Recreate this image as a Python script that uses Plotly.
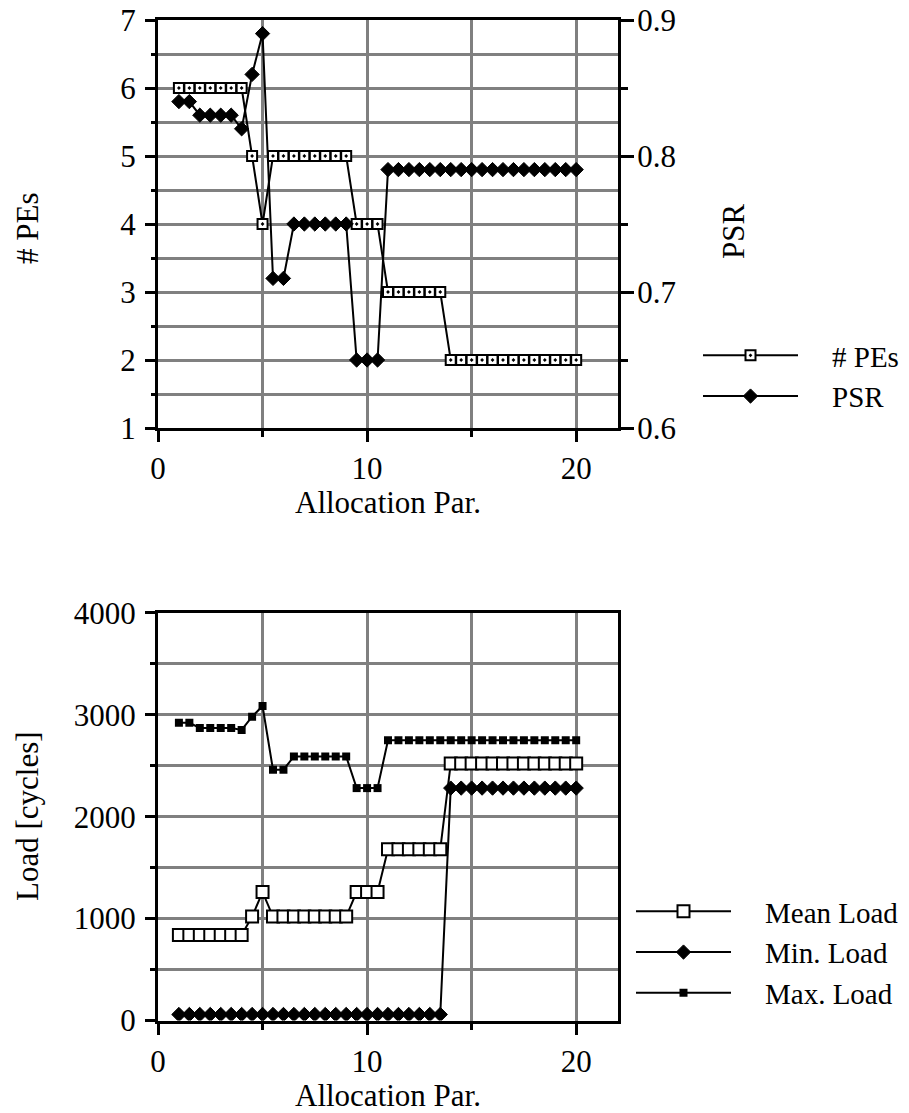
import plotly.graph_objects as go

# ---------------- data ----------------
alloc_par = [1, 1.5, 2, 2.5, 3, 3.5, 4, 4.5, 5, 5.5, 6, 6.5, 7, 7.5, 8, 8.5, 9, 9.5, 10,
             10.5, 11, 11.5, 12, 12.5, 13, 13.5, 14, 14.5, 15, 15.5, 16, 16.5, 17, 17.5,
             18, 18.5, 19, 19.5, 20]

num_pes = [6, 6, 6, 6, 6, 6, 6, 5, 4, 5, 5, 5, 5, 5, 5, 5, 5, 4, 4, 4, 3, 3, 3, 3, 3, 3,
           2, 2, 2, 2, 2, 2, 2, 2, 2, 2, 2, 2, 2]

psr = [0.84, 0.84, 0.83, 0.83, 0.83, 0.83, 0.82, 0.86, 0.89, 0.71, 0.71,
       0.75, 0.75, 0.75, 0.75, 0.75, 0.75, 0.65, 0.65, 0.65,
       0.79, 0.79, 0.79, 0.79, 0.79, 0.79, 0.79, 0.79, 0.79, 0.79, 0.79, 0.79,
       0.79, 0.79, 0.79, 0.79, 0.79, 0.79, 0.79]

mean_load = [840, 840, 840, 840, 840, 840, 840, 1020, 1260, 1020, 1020, 1020, 1020,
             1020, 1020, 1020, 1020, 1260, 1260, 1260, 1680, 1680, 1680, 1680, 1680,
             1680, 2520, 2520, 2520, 2520, 2520, 2520, 2520, 2520, 2520, 2520, 2520,
             2520, 2520]

min_load = [60, 60, 60, 60, 60, 60, 60, 60, 60, 60, 60, 60, 60, 60, 60, 60, 60, 60,
            60, 60, 60, 60, 60, 60, 60, 60, 2280, 2280, 2280, 2280, 2280, 2280, 2280,
            2280, 2280, 2280, 2280, 2280, 2280]

max_load = [2920, 2920, 2870, 2870, 2870, 2870, 2850, 2980, 3085, 2460, 2460,
            2590, 2590, 2590, 2590, 2590, 2590, 2280, 2280, 2280,
            2750, 2750, 2750, 2750, 2750, 2750, 2750, 2750, 2750, 2750, 2750, 2750,
            2750, 2750, 2750, 2750, 2750, 2750, 2750]

# ---------------- styling ----------------
FONT = "Liberation Serif"
FS = 31
LEG_FS = 29
W, H = 909, 1113
GAP = "\u2002\u2002"  # space between legend line and label


def px_x(p):
    return p / W


def px_y(p):
    return 1 - p / H


line_style = dict(color="black", width=2)

fig = go.Figure()

# top panel
fig.add_trace(go.Scatter(
    x=alloc_par, y=num_pes, name=GAP + "# PEs", mode="lines+markers",
    line=line_style,
    marker=dict(symbol="square-dot", size=10, color="white",
                line=dict(color="black", width=2)),
    xaxis="x", yaxis="y", legend="legend",
))
fig.add_trace(go.Scatter(
    x=alloc_par, y=psr, name=GAP + "PSR", mode="lines+markers",
    line=line_style,
    marker=dict(symbol="diamond", size=11, color="black",
                line=dict(color="black", width=1)),
    xaxis="x", yaxis="y2", legend="legend",
))

# bottom panel
fig.add_trace(go.Scatter(
    x=alloc_par, y=mean_load, name=GAP + "Mean Load", mode="lines+markers",
    line=line_style,
    marker=dict(symbol="square", size=12, color="white",
                line=dict(color="black", width=2)),
    xaxis="x2", yaxis="y3", legend="legend2",
))
fig.add_trace(go.Scatter(
    x=alloc_par, y=min_load, name=GAP + "Min. Load", mode="lines+markers",
    line=line_style,
    marker=dict(symbol="diamond", size=11, color="black",
                line=dict(color="black", width=1)),
    xaxis="x2", yaxis="y3", legend="legend2",
))
fig.add_trace(go.Scatter(
    x=alloc_par, y=max_load, name=GAP + "Max. Load", mode="lines+markers",
    line=line_style,
    marker=dict(symbol="square", size=8, color="black"),
    xaxis="x2", yaxis="y3", legend="legend2",
))

x_dom = [px_x(158), px_x(618)]
top_dom = [px_y(428), px_y(20)]
bot_dom = [px_y(1020.6), px_y(612.7)]

tickfont = dict(family=FONT, size=FS, color="black")
grid_gray = "#808080"

x_common = dict(
    range=[0, 22], dtick=10, tick0=0, ticks="outside", ticklen=11, tickwidth=3,
    tickcolor="black", showline=True, linecolor="black", linewidth=3, mirror=True,
    showgrid=True, gridcolor=grid_gray, gridwidth=3, zeroline=False,
    tickfont=tickfont, ticklabelstandoff=0, domain=x_dom, automargin=False,
    ticklabeloverflow="allow",
    minor=dict(dtick=5, ticks="outside", ticklen=6, tickwidth=3, tickcolor="black",
               showgrid=True, gridcolor=grid_gray, gridwidth=3),
)

fig.update_layout(
    template="none",
    width=W, height=H,
    margin=dict(l=0, r=0, t=0, b=0, pad=0),
    paper_bgcolor="white", plot_bgcolor="white",
    font=dict(family=FONT, size=FS, color="black"),
    xaxis=dict(anchor="y", **x_common),
    xaxis2=dict(anchor="y3", **x_common),
    yaxis=dict(
        domain=top_dom, range=[1, 7], dtick=1, ticks="outside", ticklen=10,
        tickwidth=3, tickcolor="black", showline=True, linecolor="black", linewidth=3,
        mirror=True,
        showgrid=True, gridcolor=grid_gray, gridwidth=3, zeroline=False,
        tickfont=tickfont, ticklabelstandoff=3, anchor="x", automargin=False,
        ticklabeloverflow="allow",
        minor=dict(dtick=0.5, ticks="outside", ticklen=4, tickwidth=3,
                   tickcolor="black", showgrid=True, gridcolor=grid_gray, gridwidth=3),
    ),
    yaxis2=dict(
        overlaying="y", side="right", anchor="x", range=[0.6, 0.9], dtick=0.1,
        tickformat=".1f", ticks="outside", ticklen=13, tickwidth=3, tickcolor="black",
        showline=True, linecolor="black", linewidth=3, showgrid=False, zeroline=False,
        tickfont=tickfont, ticklabelstandoff=-3, automargin=False,
        ticklabeloverflow="allow",
        minor=dict(dtick=0.05, ticks="outside", ticklen=7, tickwidth=3,
                   tickcolor="black", showgrid=False),
    ),
    yaxis3=dict(
        domain=bot_dom, range=[0, 4000], dtick=1000, ticks="outside", ticklen=10,
        tickwidth=3, tickcolor="black", showline=True, linecolor="black", linewidth=3,
        mirror=True, showgrid=True, gridcolor=grid_gray, gridwidth=3, zeroline=False,
        tickfont=tickfont, ticklabelstandoff=3, anchor="x2", automargin=False,
        ticklabeloverflow="allow",
        minor=dict(dtick=500, ticks="outside", ticklen=5, tickwidth=3,
                   tickcolor="black", showgrid=True, gridcolor=grid_gray, gridwidth=3),
    ),
    legend=dict(
        x=px_x(698), y=px_y(330), xanchor="left", yanchor="top",
        font=dict(family=FONT, size=LEG_FS, color="black"), itemwidth=95,
        bgcolor="rgba(0,0,0,0)", tracegroupgap=0, borderwidth=0,
    ),
    legend2=dict(
        x=px_x(631), y=px_y(886), xanchor="left", yanchor="top",
        font=dict(family=FONT, size=LEG_FS, color="black"), itemwidth=95,
        bgcolor="rgba(0,0,0,0)", tracegroupgap=0, borderwidth=0,
    ),
    showlegend=True,
)

titles = [
    ("# PEs", 27, 228, -90),
    ("PSR", 734, 232, -90),
    ("Allocation Par.", 388, 502, 0),
    ("Load [cycles]", 27, 816, -90),
    ("Allocation Par.", 388, 1095, 0),
]
for text, ax, ay, rot in titles:
    fig.add_annotation(
        text=text, x=px_x(ax), y=px_y(ay), xref="paper", yref="paper",
        showarrow=False, textangle=rot, xanchor="center", yanchor="middle",
        font=dict(family=FONT, size=FS, color="black"),
    )

# drop the default page margin so the figure fills the window exactly
fig.write_html(
    "out.html",
    config={"displayModeBar": False},
    post_script="document.body.style.margin='0';",
)
